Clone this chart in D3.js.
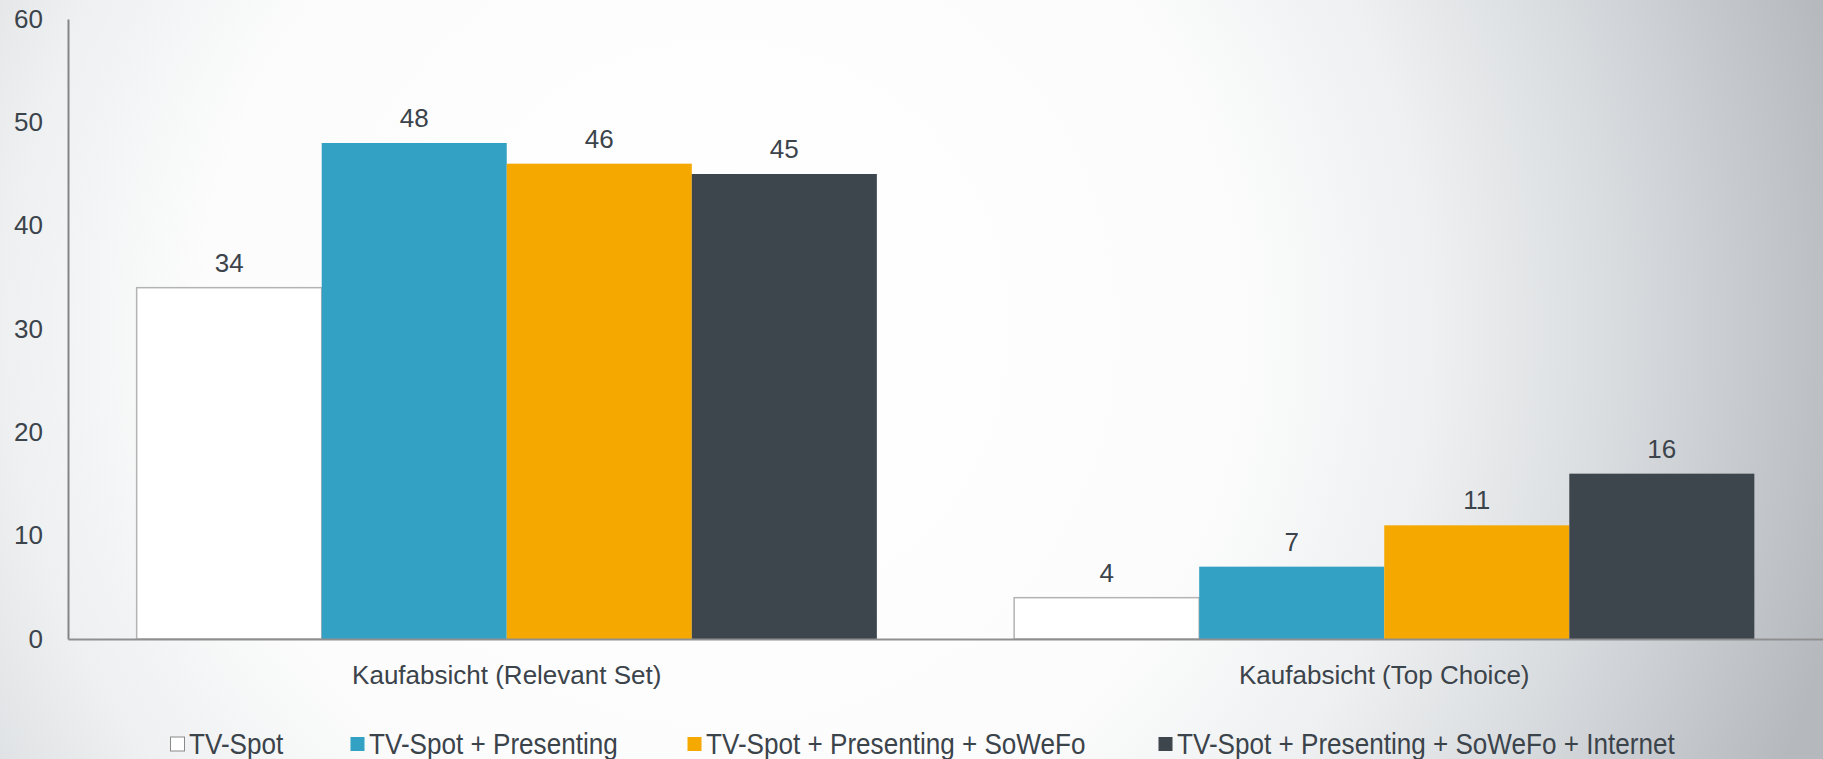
<!DOCTYPE html>
<html>
<head>
<meta charset="utf-8">
<script src="https://cdn.jsdelivr.net/npm/d3@7"></script>
<style>
  html, body { margin: 0; padding: 0; overflow: hidden; }
  svg { display: block; font-family: "Liberation Sans", Arial, sans-serif; }
</style>
</head>
<body>
<svg id="chart" width="1823" height="759"></svg>
<script>
// Chart data
const categories = ["Kaufabsicht (Relevant Set)", "Kaufabsicht (Top Choice)"];
const seriesNames = [
  "TV-Spot",
  "TV-Spot + Presenting",
  "TV-Spot + Presenting + SoWeFo",
  "TV-Spot + Presenting + SoWeFo + Internet"
];
const relevantSet = [34, 48, 46, 45];
const topChoice = [4, 7, 11, 16];
const yTicks = [0, 10, 20, 30, 40, 50, 60];
const seriesColors = ["#ffffff", "#33a1c4", "#f5a800", "#3d454d"];

const values = [relevantSet, topChoice];

const W = 1823, H = 759;
const margin = { left: 68, right: 0, top: 19, bottom: 120 };
const textColor = "#3b434b";

const svg = d3.select("#chart");

// Background: soft radial light falling off toward the right edge
const defs = svg.append("defs");
const grad = defs.append("radialGradient")
  .attr("id", "bg")
  .attr("gradientUnits", "userSpaceOnUse")
  .attr("cx", 720).attr("cy", 330).attr("r", 1150);
[[0, "#ffffff"], [0.45, "#fcfcfc"], [0.62, "#eef0f1"], [0.78, "#d9dcdf"], [1, "#b5b9be"]]
  .forEach(([o, c]) => grad.append("stop").attr("offset", o).attr("stop-color", c));
svg.append("rect").attr("width", W).attr("height", H).attr("fill", "url(#bg)");

// Scales
const x0 = d3.scaleBand().domain(categories).range([margin.left, W - margin.right]).padding(0);
const x1 = d3.scaleBand().domain(seriesNames).range([0, x0.bandwidth()])
  .paddingInner(0).paddingOuter(0.371);
const y = d3.scaleLinear().domain([0, 60]).range([H - margin.bottom, margin.top]);
const color = d3.scaleOrdinal().domain(seriesNames).range(seriesColors);

// Bars
const groups = svg.append("g").selectAll("g")
  .data(categories)
  .join("g")
  .attr("transform", d => `translate(${x0(d)},0)`);

groups.selectAll("rect")
  .data((c, i) => seriesNames.map((s, j) => ({ s, v: values[i][j] })))
  .join("rect")
  .attr("x", d => x1(d.s))
  .attr("y", d => y(d.v))
  .attr("width", x1.bandwidth())
  .attr("height", d => y(0) - y(d.v))
  .attr("fill", d => color(d.s))
  .attr("stroke", d => d.s === seriesNames[0] ? "#b3b3b3" : "none")
  .attr("stroke-width", 1.5);

// Value labels
groups.selectAll("text")
  .data((c, i) => seriesNames.map((s, j) => ({ s, v: values[i][j] })))
  .join("text")
  .attr("x", d => x1(d.s) + x1.bandwidth() / 2)
  .attr("y", d => y(d.v) - 16)
  .attr("text-anchor", "middle")
  .attr("font-size", 26)
  .attr("fill", textColor)
  .text(d => d.v);

// Y axis
const yAxis = svg.append("g")
  .attr("transform", `translate(${margin.left},0)`)
  .call(d3.axisLeft(y).tickValues(yTicks).tickSize(0).tickPadding(25));
yAxis.select(".domain").attr("stroke", "#858585").attr("stroke-width", 2);
yAxis.selectAll("text")
  .attr("font-size", 26)
  .attr("font-family", "Liberation Sans, Arial, sans-serif")
  .attr("fill", textColor);

// X axis
const xAxis = svg.append("g")
  .attr("transform", `translate(0,${y(0)})`)
  .call(d3.axisBottom(x0).tickSize(0).tickPadding(27));
xAxis.select(".domain").attr("stroke", "#8f8f8f").attr("stroke-width", 2);
xAxis.selectAll("text")
  .attr("font-size", 26)
  .attr("font-family", "Liberation Sans, Arial, sans-serif")
  .attr("fill", textColor);

// Legend (slightly condensed lettering)
const legend = svg.append("g");
const legendStarts = [170, 350, 687, 1158];
const legendY = 744;
seriesNames.forEach((s, i) => {
  const g = legend.append("g").attr("transform", `translate(${legendStarts[i]},${legendY})`);
  g.append("rect")
    .attr("x", 0.5).attr("y", -7)
    .attr("width", 14).attr("height", 14)
    .attr("fill", color(s))
    .attr("stroke", i === 0 ? "#8a8a8a" : "none")
    .attr("stroke-width", 1);
  g.append("text")
    .attr("transform", "translate(19,10) scale(0.9,1)")
    .attr("font-size", 29)
    .attr("fill", textColor)
    .text(s);
});
</script>
</body>
</html>
